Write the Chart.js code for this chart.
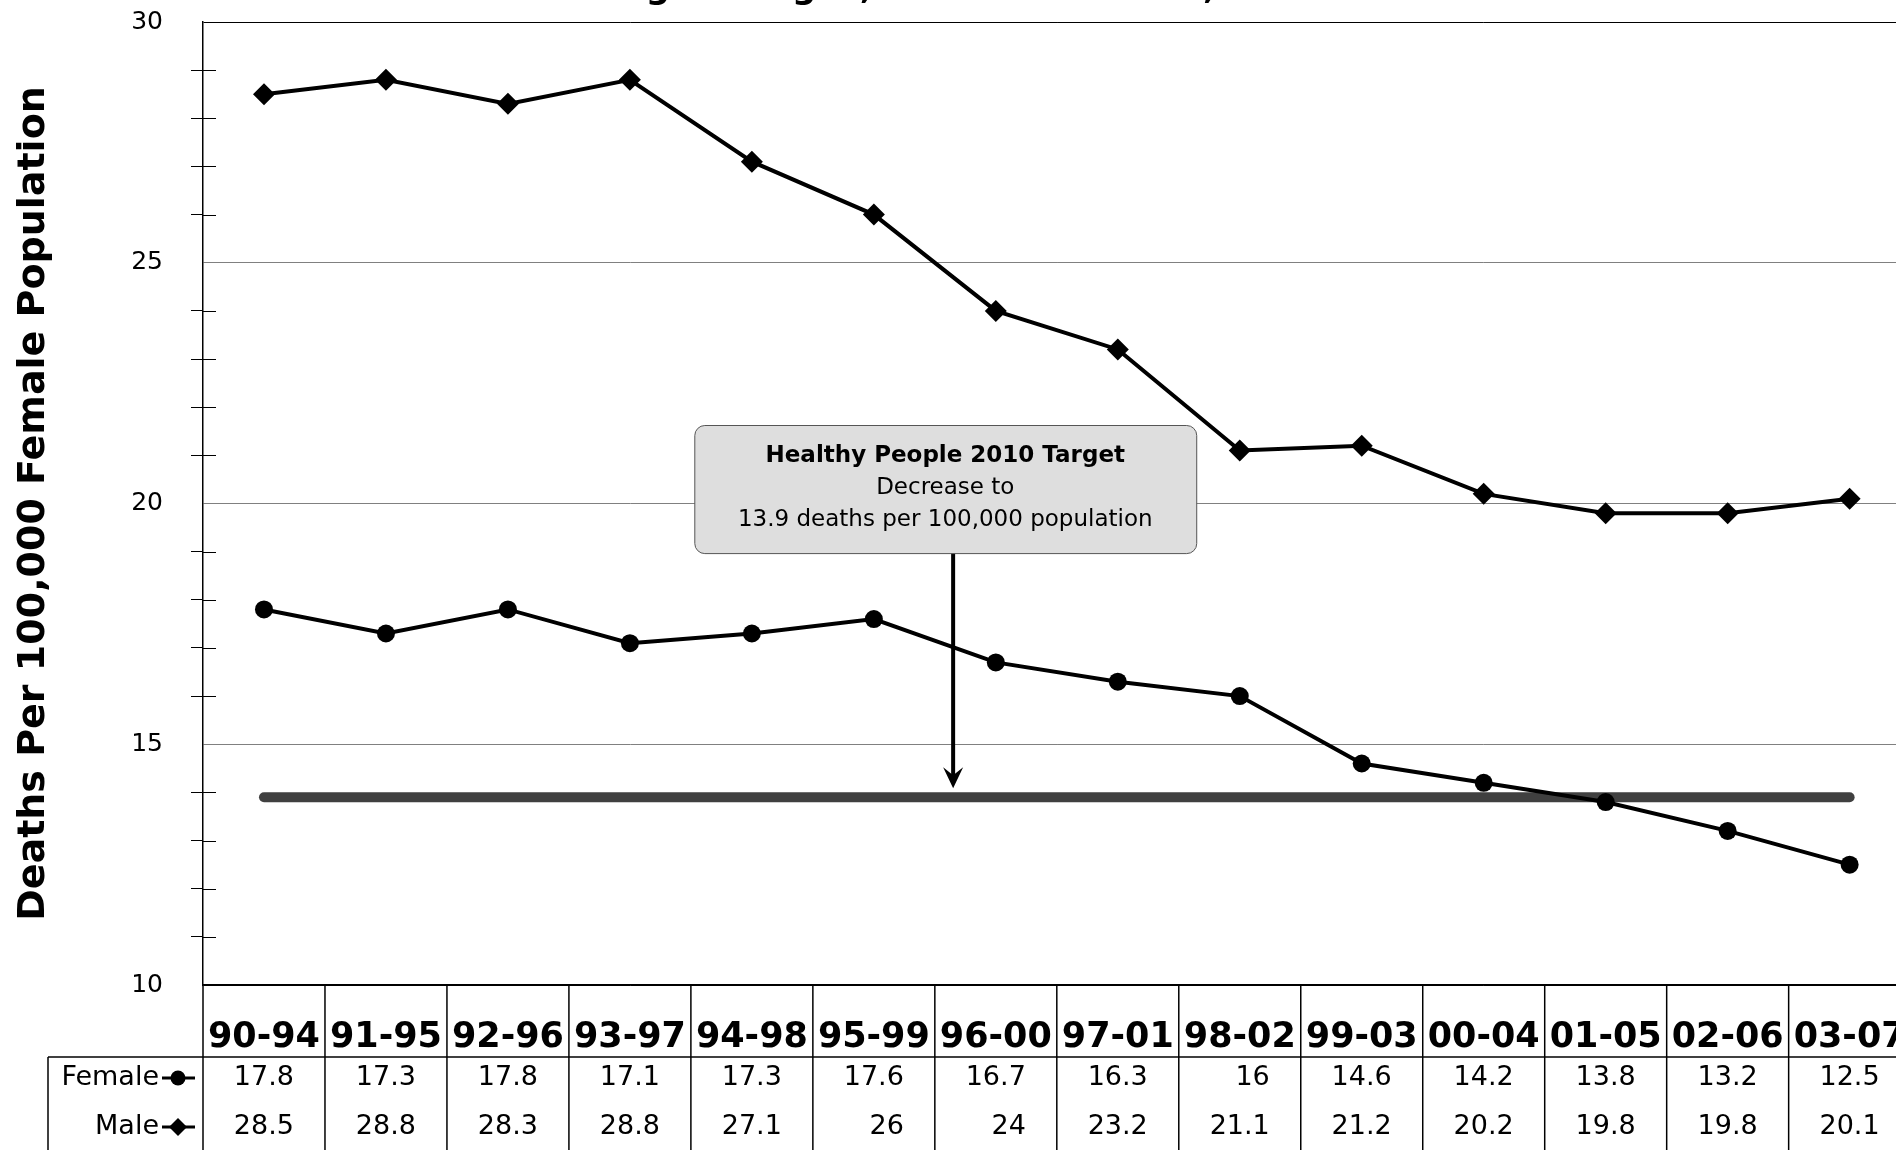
<!DOCTYPE html>
<html>
<head>
<meta charset="utf-8">
<script src="https://cdn.jsdelivr.net/npm/chart.js@4.4.1/dist/chart.umd.min.js"></script>
<style>
html,body{margin:0;padding:0;width:1896px;height:1150px;overflow:hidden;background:#fff;}
#canvasDev{position:absolute;left:0;top:-50px;width:1930px;height:1210px;}
#canvas{width:1930px;height:1210px;display:block;}
</style>
</head>
<body>
<div id="canvasDev"><canvas id="canvas" width="1930" height="1210"></canvas></div>
<script>
// five year periods (x axis / table header)
const periods = ['90-94','91-95','92-96','93-97','94-98','95-99','96-00','97-01','98-02','99-03','00-04','01-05','02-06','03-07'];
// deaths per 100,000
const femaleRates = [17.8,17.3,17.8,17.1,17.3,17.6,16.7,16.3,16,14.6,14.2,13.8,13.2,12.5];
const maleRates = [28.5,28.8,28.3,28.8,27.1,26,24,23.2,21.1,21.2,20.2,19.8,19.8,20.1];
// Healthy People 2010 target
const targetRates = [13.9,13.9,13.9,13.9,13.9,13.9,13.9,13.9,13.9,13.9,13.9,13.9,13.9,13.9];
const yTicks = [10,15,20,25,30];

const F = "'DejaVu Sans', Verdana, sans-serif";
const OFF = 50; // canvas is shifted up by this, title is mostly off page

function marker(ctx, style, r, x, y){
    ctx.fillStyle = '#000';
    if (Chart.helpers && Chart.helpers.drawPoint) {
        Chart.helpers.drawPoint(ctx, {pointStyle: style, radius: r, borderWidth: 0, rotation: 0}, x, y);
        return;
    }
    ctx.beginPath();
    if (style === 'circle') ctx.arc(x, y, r, 0, Math.PI*2);
    else { ctx.moveTo(x-r,y); ctx.lineTo(x,y-r); ctx.lineTo(x+r,y); ctx.lineTo(x,y+r); ctx.closePath(); }
    ctx.fill();
}

const extras = {
    id: 'extras',
    afterDraw(chart){
        const ctx = chart.ctx;
        const xs = chart.scales.x, ys = chart.scales.y;
        const area = chart.chartArea;
        ctx.save();

        // title (cut off at the top of the page, only descenders show)
        ctx.font = 'bold 34px ' + F;
        ctx.fillStyle = '#000';
        ctx.textAlign = 'left';
        ctx.textBaseline = 'alphabetic';
        const title = 'Colorectal Cancer Death Rates in Rolling Averages, Women and Men, 1990-2007';
        const pre = ctx.measureText('Colorectal Cancer Death Rates in Rollin').width;
        const gw = ctx.measureText('g').width;
        ctx.fillText(title, 658 - pre - gw/2, OFF - 2);

        // minor ticks crossing into the plot
        ctx.strokeStyle = '#000';
        ctx.lineWidth = 1;
        for (let v = 11; v < 30; v++) {
            if (v % 5 === 0) continue;
            const y = Math.round(ys.getPixelForValue(v)) + 0.5;
            ctx.beginPath(); ctx.moveTo(area.left, y); ctx.lineTo(area.left + 13, y); ctx.stroke();
        }

        // data table under the chart
        const half = (xs.getPixelForValue(1) - xs.getPixelForValue(0)) / 2;
        const top = area.bottom;
        const rowTop = top + 72;
        const bottom = chart.height;
        ctx.lineWidth = 1.5;
        for (let i = 0; i <= periods.length; i++) {
            const x = xs.getPixelForValue(i) - half;
            ctx.beginPath(); ctx.moveTo(x, top); ctx.lineTo(x, bottom); ctx.stroke();
        }
        ctx.beginPath(); ctx.moveTo(48, rowTop); ctx.lineTo(chart.width, rowTop); ctx.stroke();
        ctx.beginPath(); ctx.moveTo(48, rowTop); ctx.lineTo(48, bottom); ctx.stroke();

        const rows = [
            {label: 'Female', vals: femaleRates, style: 'circle', r: 7.5, y: rowTop + 21},
            {label: 'Male', vals: maleRates, style: 'rectRot', r: 9, y: rowTop + 70}
        ];
        ctx.font = '27px ' + F;
        ctx.textBaseline = 'middle';
        rows.forEach(row => {
            ctx.fillStyle = '#000';
            ctx.textAlign = 'right';
            ctx.fillText(row.label, 159, row.y);
            ctx.lineWidth = 3;
            ctx.beginPath(); ctx.moveTo(162, row.y); ctx.lineTo(195, row.y); ctx.stroke();
            marker(ctx, row.style, row.r, 178, row.y);
            ctx.fillStyle = '#000';
            ctx.textAlign = 'right';
            row.vals.forEach((v, i) => {
                ctx.fillText(String(v), xs.getPixelForValue(i) + half - 31, row.y);
            });
        });
        ctx.restore();
    },
    afterDatasetsDraw(chart){
        const ctx = chart.ctx;
        const xs = chart.scales.x, ys = chart.scales.y;
        ctx.save();
        // Healthy People 2010 box with arrow down to the target line
        const bl = xs.getPixelForValue(3.528), br = xs.getPixelForValue(7.643);
        const bt = ys.getPixelForValue(21.63), bb = ys.getPixelForValue(18.97);
        const ax = xs.getPixelForValue(5.65);
        const tip = ys.getPixelForValue(13.9) - 9;
        ctx.lineWidth = 4;
        ctx.strokeStyle = '#000';
        ctx.beginPath(); ctx.moveTo(ax, bb); ctx.lineTo(ax, tip - 10); ctx.stroke();
        ctx.fillStyle = '#000';
        ctx.beginPath();
        ctx.moveTo(ax, tip); ctx.lineTo(ax - 10, tip - 21); ctx.lineTo(ax, tip - 13); ctx.lineTo(ax + 10, tip - 21);
        ctx.closePath(); ctx.fill();

        ctx.beginPath();
        ctx.roundRect(bl + 0.5, bt + 0.5, br - bl, bb - bt, 10);
        ctx.fillStyle = '#dedede';
        ctx.fill();
        ctx.lineWidth = 1;
        ctx.strokeStyle = '#555';
        ctx.stroke();

        const cx = (bl + br) / 2;
        ctx.fillStyle = '#000';
        ctx.textAlign = 'center';
        ctx.textBaseline = 'middle';
        ctx.font = 'bold 23px ' + F;
        ctx.fillText('Healthy People 2010 Target', cx, bt + 31);
        ctx.font = '23px ' + F;
        ctx.fillText('Decrease to', cx, bt + 63);
        ctx.fillText('13.9 deaths per 100,000 population', cx, bt + 95);
        ctx.restore();
    }
};

const ctx = document.getElementById('canvas').getContext('2d');
const myChart = new Chart(ctx, {
    type: 'line',
    data: {
        labels: periods,
        datasets: [{
            label: 'Female',
            data: femaleRates,
            borderColor: '#000',
            backgroundColor: '#000',
            borderWidth: 4,
            pointStyle: 'circle',
            pointRadius: 9,
            pointBorderWidth: 0,
            pointBackgroundColor: '#000'
        }, {
            label: 'Male',
            data: maleRates,
            borderColor: '#000',
            backgroundColor: '#000',
            borderWidth: 4,
            pointStyle: 'rectRot',
            pointRadius: 11,
            pointBorderWidth: 0,
            pointBackgroundColor: '#000'
        }, {
            label: 'Target',
            data: targetRates,
            borderColor: '#404040',
            borderWidth: 10,
            borderCapStyle: 'round',
            pointRadius: 0
        }]
    },
    options: {
        responsive: false,
        animation: false,
        layout: {padding: {top: 72, right: 4, bottom: 77, left: 0}},
        plugins: {legend: {display: false}, tooltip: {enabled: false}},
        scales: {
            x: {
                offset: true,
                grid: {display: false},
                border: {display: true, color: '#000', width: 1.5},
                ticks: {color: '#000', padding: 24, maxRotation: 0, autoSkip: false,
                        font: {family: F, size: 35, weight: 'bold'}}
            },
            y: {
                min: 10,
                max: 30,
                afterFit: s => { s.width = 203; },
                border: {color: '#000', width: 1.5},
                grid: {
                    lineWidth: 1,
                    tickLength: 12,
                    color: c => {
                        const v = c.tick.value;
                        if (v === 30 || v === 10) return '#000';
                        return yTicks.includes(v) ? '#808080' : 'rgba(0,0,0,0)';
                    },
                    tickColor: c => yTicks.includes(c.tick.value) ? 'rgba(0,0,0,0)' : '#000'
                },
                ticks: {stepSize: 1, autoSkip: false, padding: 28, color: '#000',
                        font: {family: F, size: 25},
                        callback: v => yTicks.includes(v) ? v : ''},
                title: {display: true, text: 'Deaths Per 100,000 Female Population', color: '#000',
                        font: {family: F, size: 38, weight: 'bold'}, padding: {top: 11, bottom: 0}}
            }
        }
    },
    plugins: [extras]
});
</script>
</body>
</html>
